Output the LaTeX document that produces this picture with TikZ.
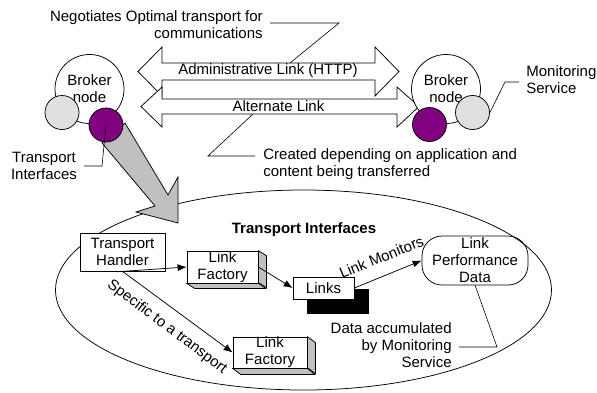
\documentclass[tikz,border=0pt]{standalone}
\usepackage{fontspec}
\setmainfont{Liberation Sans}
\usetikzlibrary{arrows.meta,calc,shapes.geometric}
\definecolor{purp}{HTML}{800080}
\definecolor{lgrey}{HTML}{E0E0E0}
\definecolor{mgrey}{HTML}{C0C0C0}
\begin{document}
\begin{tikzpicture}[x=1pt,y=-1pt,
  font=\fontsize{15}{17}\selectfont,
  line width=0.75pt,
  txt/.style={inner sep=0pt, align=center},
  boxnode/.style={draw, fill=white, inner sep=0pt, align=center},
  arr/.style={-{Latex[length=9pt,width=7pt]}},
  blockarrow/.style={draw, fill=white, line join=miter},
  callout/.style={draw, line width=0.6pt}]
\useasboundingbox (0,0) rectangle (597,392);

% container ellipse
\node[draw, ellipse, minimum width=496pt, minimum height=200pt, inner sep=0pt] (ti) at (303.5,290) {};

% big grey arrow
\filldraw[fill=mgrey, line join=miter] (102,143) -- (125,123) -- (168,195) -- (178,177) -- (178,223) -- (136,212) -- (155,206) -- cycle;

% block arrows
\path[blockarrow] (138,71.5) -- (162,47) -- (162,63) -- (375,63) -- (375,47) -- (399,71.5) -- (375,96) -- (375,80) -- (162,80) -- (162,96) -- cycle;
\path[blockarrow] (141,106.5) -- (162,87) -- (162,99) -- (397,99) -- (397,87) -- (419,106.5) -- (397,127) -- (397,114) -- (162,114) -- (162,127) -- cycle;
\node[txt] (adm) at (268,71) {Administrative Link (HTTP)};
\node[txt] (alt) at (278.5,106.5) {Alternate Link};

% left broker
\node[draw, fill=white, circle, minimum size=69pt, inner sep=0pt, align=center] (bl) at (89.5,89) {Broker\\node};
\node[draw, fill=lgrey, circle, minimum size=34pt, inner sep=0pt] (msl) at (62,112.5) {};
\node[draw, fill=purp, circle, minimum size=34pt, inner sep=0pt] (tpl) at (106,125) {};

% right broker
\node[draw, fill=white, circle, minimum size=69pt, inner sep=0pt, align=center] (br) at (446,89) {Broker\\node};
\node[draw, fill=purp, circle, minimum size=34pt, inner sep=0pt] (tpr) at (429.5,124.5) {};
\node[draw, fill=lgrey, circle, minimum size=34pt, inner sep=0pt] (msr) at (472.5,112.5) {};

% text labels
\node[txt, align=right, anchor=east] (neg) at (263,25) {Negotiates Optimal transport for\\communications};
\node[txt, align=left, anchor=west] (cre) at (263,164.5) {Created depending on application and\\content being transferred};
\node[txt, align=left, anchor=west] (mon) at (526,80) {Monitoring\\Service};
\node[txt] (til) at (44,166) {Transport\\Interfaces};
\node[txt, font=\fontsize{15}{17}\selectfont\bfseries] (tit) at (304,230) {Transport Interfaces};

% inner boxes
\node[boxnode, minimum width=85pt, minimum height=38pt] (th) at (122.5,252) {Transport\\Handler};

\node[boxnode, minimum width=71pt, minimum height=32pt] (lf1) at (222.5,267) {Link\\Factory};
\filldraw[fill=mgrey, line join=miter] (lf1.north east) -- ++(8,5) -- ++(0,32) -- ++(-8,-5) -- cycle;
\filldraw[fill=mgrey, line join=miter] (lf1.south west) -- ++(8,5) -- ++(71,0) -- (lf1.south east) -- cycle;

\node[boxnode, minimum width=74pt, minimum height=31pt] (lf2) at (270,352.5) {Link\\Factory};
\filldraw[fill=mgrey, line join=miter] (lf2.north east) -- ++(8,6) -- ++(0,31) -- ++(-8,-6) -- cycle;
\filldraw[fill=mgrey, line join=miter] (lf2.south west) -- ++(8,6) -- ++(74,0) -- (lf2.south east) -- cycle;

\fill[black] (307,289) rectangle (369,314);
\node[boxnode, minimum width=61pt, minimum height=22pt] (links) at (323.5,288) {Links};

\node[draw, rounded corners=20pt, minimum width=106pt, minimum height=49pt, inner sep=0pt, align=center] (lpd) at (475,260.5) {Link\\Performance\\Data};

% connectors
\draw[arr] (th.south) -- (lf1.west);
\draw[arr] (th.south) -- (lf2.west);
\draw[arr] (lf1.east) -- (links.west);
\draw[arr] (links.east) -- (lpd.west);

\node[txt, rotate=-37] (spec) at (167,327) {Specific to a transport};
\node[txt, rotate=22] (lmon) at (381.5,257) {Link Monitors};
\node[txt, align=right, anchor=east] (dacc) at (452,345.5) {Data accumulated\\by Monitoring\\Service};

% callouts
\coordinate (c1a) at (270,23);
\coordinate (c1b) at (339,23);
\coordinate (c1c) at (290,63);
\draw[callout] (c1a) -- (c1b) -- (c1c);
\coordinate (c2a) at (253,114);
\coordinate (c2b) at (208,156);
\coordinate (c2c) at (255,156);
\draw[callout] (c2a) -- (c2b) -- (c2c);
\coordinate (c3b) at (505,82);
\coordinate (c3c) at (519,82);
\draw[callout] (msr.east) -- (c3b) -- (c3c);
\coordinate (c4b) at (102,166);
\coordinate (c4c) at (84,166);
\draw[callout] (tpl.center) -- (c4b) -- (c4c);
\coordinate (c5a) at (475,285);
\coordinate (c5b) at (497,347);
\coordinate (c5c) at (459,347);
\draw[callout] (c5a) -- (c5b) -- (c5c);
\end{tikzpicture}
\end{document}
